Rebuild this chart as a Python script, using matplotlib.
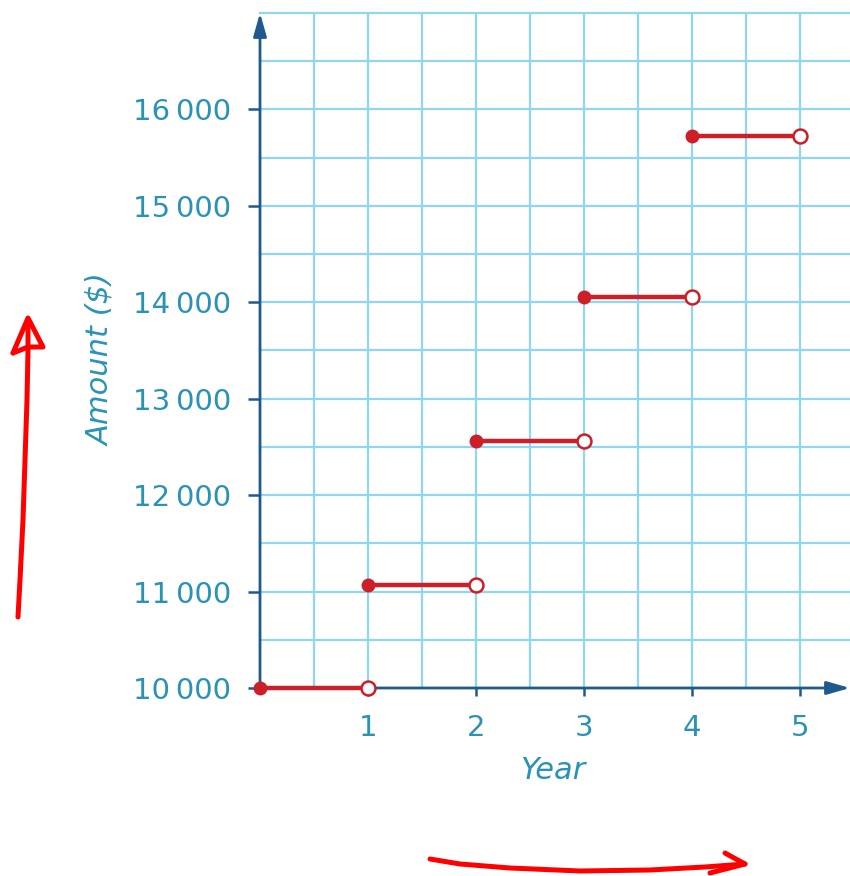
import matplotlib
matplotlib.use("Agg")
import matplotlib.pyplot as plt
from matplotlib.lines import Line2D
import numpy as np

# ---- data ----
year_start = [0, 1, 2, 3, 4]
year_end = [1, 2, 3, 4, 5]
amount = [10000, 11070, 12560, 14050, 15720]
y_ticks = [10000, 11000, 12000, 13000, 14000, 15000, 16000]
y_tick_labels = ["10\u2009000", "11\u2009000", "12\u2009000", "13\u2009000",
                 "14\u2009000", "15\u2009000", "16\u2009000"]
x_ticks = [1, 2, 3, 4, 5]
x_tick_labels = ["1", "2", "3", "4", "5"]

GRID = "#8fd6f4"
AXIS = "#1f5a8f"
TEXT = "#2a93b5"
RED = "#cc1f27"
HAND = "#ff0000"

W, H = 850, 876
fig = plt.figure(figsize=(W / 100, H / 100), dpi=100)
fig.patch.set_facecolor("white")

ax = fig.add_axes([260 / W, 1 - 688 / H, 590 / W, (688 - 13) / H])
ax.set_xlim(0, 5.463)
ax.set_ylim(10000, 17000)

for s in ax.spines.values():
    s.set_visible(False)

# grid
for gx in np.arange(0.5, 5.01, 0.5):
    ax.axvline(gx, color=GRID, lw=1.6, zorder=0)
for gy in np.arange(10500, 17001, 500):
    ax.axhline(gy, color=GRID, lw=1.6, zorder=0, clip_on=False)

# axes with arrows
ax.annotate("", xy=(0, 1.0), xytext=(0, 0), xycoords="axes fraction",
            arrowprops=dict(arrowstyle="-|>,head_length=1.4,head_width=0.4",
                            color=AXIS, lw=2, shrinkA=0, shrinkB=0), zorder=3)
ax.annotate("", xy=(1.0, 0), xytext=(0, 0), xycoords="axes fraction",
            arrowprops=dict(arrowstyle="-|>,head_length=1.4,head_width=0.4",
                            color=AXIS, lw=2, shrinkA=0, shrinkB=0), zorder=3)

# ticks
ax.set_yticks(y_ticks)
ax.set_yticklabels(y_tick_labels)
ax.set_xticks(x_ticks)
ax.set_xticklabels(x_tick_labels)
ax.tick_params(axis="y", direction="out", length=9, width=1.8, color=AXIS,
               labelcolor=TEXT, labelsize=21, pad=12)
ax.tick_params(axis="x", direction="out", length=6, width=1.8, color=AXIS,
               labelcolor=TEXT, labelsize=21, pad=13)

ax.set_xlabel("Year", color=TEXT, fontsize=22, style="italic")
ax.xaxis.set_label_coords((553 - 260) / 590, -(756 - 688) / (688 - 13))
ax.set_ylabel("Amount ($)", color=TEXT, fontsize=22, style="italic")
ax.yaxis.set_label_coords(-(260 - 115) / 590, (688 - 360) / (688 - 13))

# step segments
for x0, x1, a in zip(year_start, year_end, amount):
    ax.plot([x0, x1], [a, a], color=RED, lw=3.2, solid_capstyle="butt",
            zorder=4, clip_on=False)
    ax.plot([x0], [a], "o", color=RED, ms=9, zorder=5, clip_on=False)
    ax.plot([x1], [a], "o", mfc="white", mec=RED, mew=1.8, ms=10,
            zorder=5, clip_on=False)

# hand-drawn red arrows (figure pixel coordinates)
def fx(x):
    return x / W

def fy(y):
    return 1 - y / H

def hand(xs, ys):
    fig.add_artist(Line2D([fx(v) for v in xs], [fy(v) for v in ys],
                          color=HAND, lw=3.6, solid_capstyle="round",
                          solid_joinstyle="round"))

hand([18, 20, 23, 25, 27, 28, 28], [617, 580, 520, 460, 400, 350, 322])
hand([13, 28, 43, 28], [353, 318, 347, 347])
hand([13, 28], [353, 347])

hand([430, 460, 510, 580, 650, 705, 745], [859, 864, 868, 871, 870, 867, 864])
hand([725, 745, 710], [853, 864, 873])

fig.savefig("out.png", dpi=100, facecolor="white")
